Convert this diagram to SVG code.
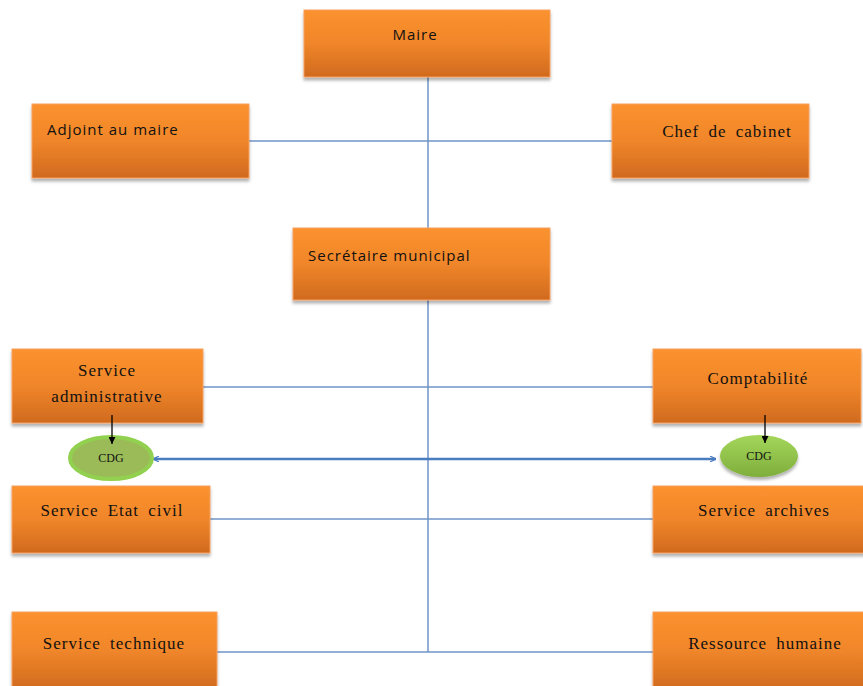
<svg xmlns="http://www.w3.org/2000/svg" width="863" height="686" viewBox="0 0 863 686">
<defs>
<linearGradient id="og" x1="0" y1="0" x2="0" y2="1">
<stop offset="0" stop-color="#fb922e"/>
<stop offset="0.5" stop-color="#f0862a"/>
<stop offset="1" stop-color="#d06a1e"/>
</linearGradient>
<linearGradient id="gg" x1="0" y1="0" x2="0" y2="1">
<stop offset="0" stop-color="#a4d65a"/>
<stop offset="1" stop-color="#7fae3c"/>
</linearGradient>
<filter id="sh" x="-5%" y="-5%" width="110%" height="120%">
<feDropShadow dx="0" dy="3" stdDeviation="1.5" flood-color="#000" flood-opacity="0.3"/>
</filter>
<marker id="ah" viewBox="0 0 10 10" refX="10" refY="5" markerWidth="6" markerHeight="6" orient="auto-start-reverse" markerUnits="userSpaceOnUse">
<path d="M0,0 L10,5 L0,10" fill="none" stroke="#4a7cc0" stroke-width="2"/>
</marker>
<marker id="bh" viewBox="0 0 10 10" refX="10" refY="5" markerWidth="7" markerHeight="7" orient="auto" markerUnits="userSpaceOnUse">
<path d="M0,0 L10,5 L0,10 z" fill="#000"/>
</marker>
</defs>
<style>
.box{fill:url(#og);stroke:#f5a060;stroke-width:1;filter:url(#sh)}
.sans{font-family:"Open Sans","DejaVu Sans",sans-serif;font-size:15px;fill:#111;letter-spacing:1px}
.ser{font-family:"Liberation Serif","Times New Roman",serif;font-size:17px;fill:#111;letter-spacing:1px;word-spacing:4px}
.cdg{font-family:"Liberation Serif",serif;font-size:12px;fill:#111}
.ln{stroke:#6f95c8;stroke-width:1.5;fill:none}
</style>
<g id="connectors">
<line class="ln" x1="428" y1="77" x2="428" y2="652"/>
<line class="ln" x1="249" y1="141" x2="612" y2="141"/>
<line class="ln" x1="203" y1="387" x2="653" y2="387"/>
<line class="ln" x1="210" y1="519" x2="653" y2="519"/>
<line class="ln" x1="217" y1="652" x2="653" y2="652"/>
<line x1="153" y1="459" x2="716" y2="459" stroke="#4a7cc0" stroke-width="2.5" marker-start="url(#ah)" marker-end="url(#ah)"/>
</g>
<g id="maire"><rect class="box" x="304" y="10" width="246" height="67"/><text class="sans" x="415" y="40" text-anchor="middle">Maire</text></g>
<g id="adjoint"><rect class="box" x="32" y="104" width="217" height="74"/><text class="sans" x="47" y="135">Adjoint au maire</text></g>
<g id="chef"><rect class="box" x="612" y="104" width="197" height="74"/><text class="ser" x="727" y="137" text-anchor="middle">Chef de cabinet</text></g>
<g id="secretaire"><rect class="box" x="293" y="228" width="257" height="72"/><text class="sans" x="308" y="261">Secrétaire municipal</text></g>
<g id="service-admin"><rect class="box" x="12" y="349" width="191" height="74"/><text class="ser" x="107" y="376" text-anchor="middle">Service</text><text class="ser" x="107" y="402" text-anchor="middle">administrative</text></g>
<g id="comptabilite"><rect class="box" x="653" y="349" width="208" height="74"/><text class="ser" x="758" y="384" text-anchor="middle">Comptabilité</text></g>
<g id="cdg-left"><ellipse cx="111" cy="458" rx="41" ry="21" fill="#9bbb59" stroke="#92d050" stroke-width="4"/><text class="cdg" x="111" y="462" text-anchor="middle">CDG</text></g>
<g id="cdg-right"><ellipse cx="759" cy="456" rx="39" ry="21" fill="url(#gg)" filter="url(#sh)"/><text class="cdg" x="759" y="460" text-anchor="middle">CDG</text></g>
<g id="etat-civil"><rect class="box" x="12" y="486" width="198" height="67"/><text class="ser" x="112" y="516" text-anchor="middle">Service Etat civil</text></g>
<g id="archives"><rect class="box" x="653" y="486" width="212" height="67"/><text class="ser" x="764" y="516" text-anchor="middle">Service archives</text></g>
<g id="technique"><rect class="box" x="12" y="612" width="205" height="78"/><text class="ser" x="114" y="649" text-anchor="middle">Service technique</text></g>
<g id="ressource"><rect class="box" x="653" y="612" width="212" height="78"/><text class="ser" x="765" y="649" text-anchor="middle">Ressource humaine</text></g>
<g id="arrows-cdg">
<line x1="112" y1="415" x2="112" y2="444" stroke="#000" stroke-width="1.3" marker-end="url(#bh)"/>
<line x1="765" y1="415" x2="765" y2="443" stroke="#000" stroke-width="1.3" marker-end="url(#bh)"/>
</g>
</svg>
